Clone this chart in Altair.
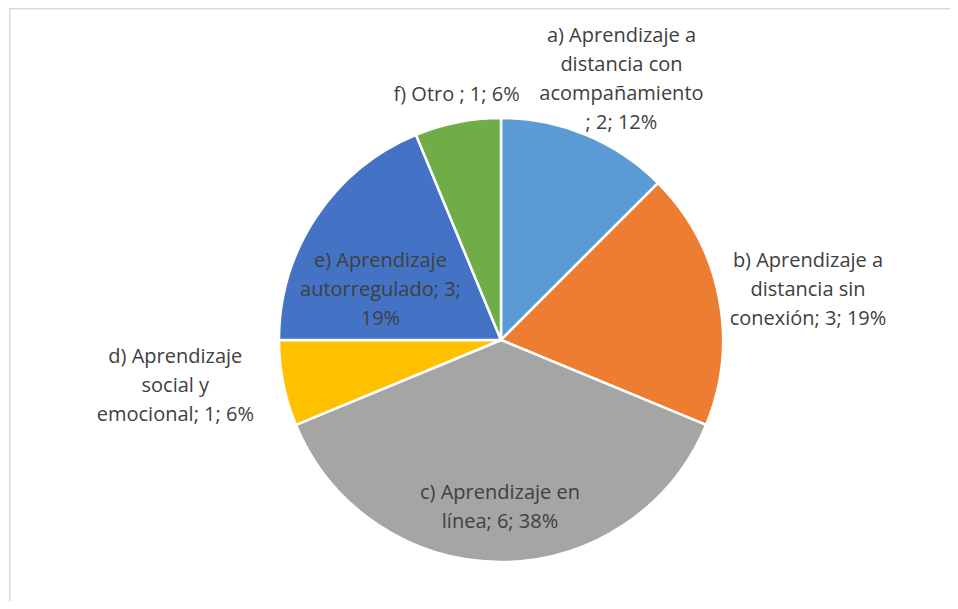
import altair as alt
import pandas as pd

# ---- data ----
categories = [
    "a) Aprendizaje a distancia con acompañamiento",
    "b) Aprendizaje a distancia sin conexión",
    "c) Aprendizaje en línea",
    "d) Aprendizaje social y emocional",
    "e) Aprendizaje autorregulado",
    "f) Otro",
]
values = [2, 3, 6, 1, 3, 1]
percents = ["12%", "19%", "38%", "6%", "19%", "6%"]
label_lines = [
    ["a) Aprendizaje a", "distancia con", "acompañamiento", "; 2; 12%"],
    ["b) Aprendizaje a", "distancia sin", "conexión; 3; 19%"],
    ["c) Aprendizaje en", "línea; 6; 38%"],
    ["d) Aprendizaje", "social y", "emocional; 1; 6%"],
    ["e) Aprendizaje", "autorregulado; 3;", "19%"],
    ["f) Otro ; 1; 6%"],
]
colors = ["#5B9BD5", "#ED7D31", "#A5A5A5", "#FFC000", "#4472C4", "#70AD47"]

df = pd.DataFrame({
    "cat": categories,
    "value": values,
    "pct": percents,
    "label": ["\n".join(l) for l in label_lines],
    "nlines": [len(l) for l in label_lines],
    "order": list(range(len(categories))),
})

# ---- layout / style ----
W, H = 942, 593
CX, CY = 493, 332
R = 222
FONT = "Open Sans"
LH = 29
label_style = {  # radius, dx, dy (block centre) per slice label
    0: (286, 11, 4),
    1: (312, 1, 11),
    2: (167, -1, 0),
    3: (330, -2, -18),
    4: (145, 0, 31),
    5: (248, 4, -2),
}

base = alt.Chart(df).encode(
    theta=alt.Theta("value:Q", stack=True),
    order=alt.Order("order:Q"),
)

pie = base.mark_arc(outerRadius=R, stroke="white", strokeWidth=2.5).encode(
    color=alt.Color("cat:N", scale=alt.Scale(domain=categories, range=colors), legend=None),
    x=alt.value(CX),
    y=alt.value(CY),
)

layers = [pie]
for i, (r, dx, dy) in label_style.items():
    n = len(label_lines[i])
    layers.append(
        base.mark_text(
            radius=r, dx=dx, dy=dy - (n - 1) * LH / 2, font=FONT, fontSize=20,
            color="#404040", lineBreak="\n", lineHeight=LH, align="center",
            baseline="middle",
        ).encode(
            text="label:N",
            x=alt.value(CX),
            y=alt.value(CY),
            opacity=alt.condition(alt.datum.order == i, alt.value(1), alt.value(0)),
        )
    )

frame_data = alt.Data(values=[{"k": 1}])
top_line = alt.Chart(frame_data).mark_rule(color="#d9d9d9", strokeWidth=1.5).encode(
    x=alt.value(1), x2=alt.value(W), y=alt.value(0.75)
)
left_line = alt.Chart(frame_data).mark_rule(color="#d9d9d9", strokeWidth=1.5).encode(
    x=alt.value(1.75), y=alt.value(0), y2=alt.value(H)
)

chart = alt.layer(*layers, top_line, left_line).properties(
    width=W, height=H, autosize=alt.AutoSizeParams(type="none"), padding=0,
    background="white",
).configure_view(stroke=None)

chart.save("out.html", embed_options={"renderer": "svg", "actions": False})
